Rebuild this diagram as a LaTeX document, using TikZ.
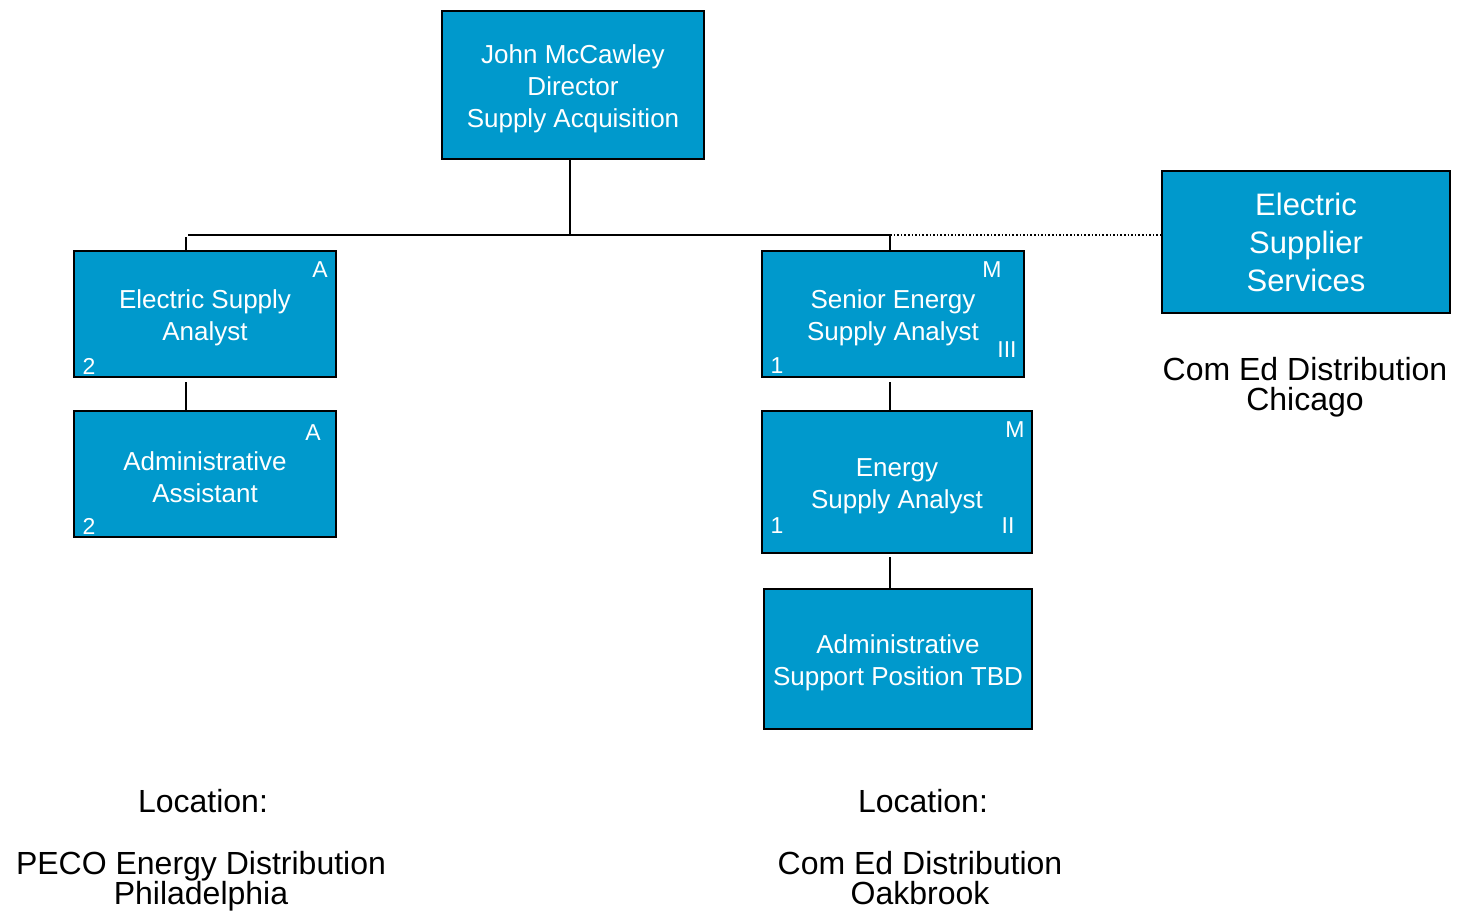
\documentclass[tikz,border=0pt]{standalone}
\usepackage{fontspec}
\setmainfont{Liberation Sans}
\definecolor{boxblue}{HTML}{0099CC}
\newcommand{\tallline}{\rule{0pt}{26pt}}
\begin{document}
\begin{tikzpicture}[x=1pt,y=-1pt,
  posbox/.style={draw=black,line width=2pt,fill=boxblue,text=white,align=center,inner sep=0pt,
    font=\fontsize{26}{32}\selectfont},
  bigbox/.style={posbox,font=\fontsize{31}{38}\selectfont},
  corner/.style={text=white,inner sep=0pt,font=\fontsize{23}{24}\selectfont},
  caption/.style={text=black,align=center,inner sep=0pt,font=\fontsize{32}{30}\selectfont},
  link/.style={line width=2pt},
  dotlink/.style={line width=1.6pt,dotted}]
\useasboundingbox (0,0) rectangle (1465,911);
% boxes
\node[posbox,minimum width=262pt,minimum height=148pt] (dir) at (573,85) {\tallline John McCawley\\Director\\Supply Acquisition};
\node[posbox,minimum width=262pt,minimum height=126pt] (esa) at (205,314) {\tallline Electric Supply\\Analyst};
\node[posbox,minimum width=262pt,minimum height=126pt] (aa) at (205,474) {\tallline Administrative\\Assistant};
\node[posbox,minimum width=262pt,minimum height=126pt] (sesa) at (893,314) {\tallline Senior Energy\\Supply Analyst};
\node[posbox,minimum width=270pt,minimum height=142pt] (esa2) at (897,482) {\tallline Energy\\Supply Analyst};
\node[posbox,minimum width=268pt,minimum height=140pt] (asp) at (898,659) {\tallline Administrative\\Support Position TBD};
\node[bigbox,minimum width=288pt,minimum height=142pt] (ess) at (1306,242) {Electric\\Supplier\\Services};
% corner marks
\node[corner] (esaA) at (320,270) {A};
\node[corner] (esa2n) at (89,366) {2};
\node[corner] (aaA) at (313,433) {A};
\node[corner] (aa2n) at (89,526) {2};
\node[corner] (sesaM) at (992,270) {M};
\node[corner] (sesaIII) at (1007,350) {III};
\node[corner] (sesa1) at (777,366) {1};
\node[corner] (esa2M) at (1015,430) {M};
\node[corner] (esa2II) at (1008,526) {II};
\node[corner] (esa21) at (777,526) {1};
% captions
\node[caption] (chi) at (1305,387) {Com Ed Distribution\\Chicago};
\node[caption] (loc1) at (203,801) {Location:};
\node[caption] (peco) at (201,881) {PECO Energy Distribution\\Philadelphia};
\node[caption] (loc2) at (923,801) {Location:};
\node[caption] (oak) at (920,878) {Com Ed Distribution\\Oakbrook};
% connectors
\coordinate (bus) at (570,235);
\coordinate (busL) at (188,235);
\coordinate (stubL) at (186,237);
\coordinate (busR) at (890,235);
\draw[link] (dir.south -| bus) -- (bus);
\draw[link] (busL) -- (busR);
\draw[link] (stubL) -- (stubL |- esa.north);
\draw[link] (busR) -- (busR |- sesa.north);
\draw[dotlink] (busR) -- (busR -| ess.west);
\draw[link] ([yshift=-4pt]esa.south -| stubL) -- (aa.north -| stubL);
\draw[link] ([yshift=-4pt]sesa.south -| busR) -- (esa2.north -| busR);
\draw[link] ([yshift=-3pt]esa2.south -| busR) -- (asp.north -| busR);
\end{tikzpicture}
\end{document}
